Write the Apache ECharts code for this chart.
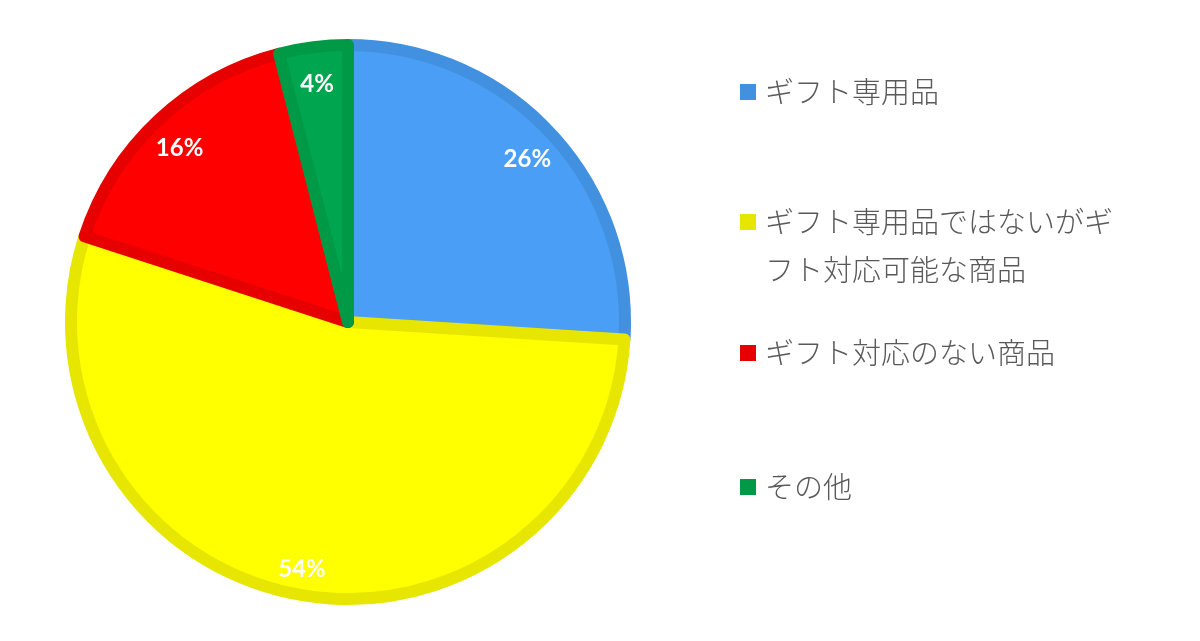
<!DOCTYPE html>
<html>
<head>
<meta charset="utf-8">
<script src="https://cdn.jsdelivr.net/npm/echarts@6/dist/echarts.min.js"></script>
<style>html,body{margin:0;padding:0;background:#fff;}#c{width:1200px;height:641px;}</style>
</head>
<body>
<div id="c"></div>
<script>
const categories = ['ギフト専用品', 'ギフト専用品ではないがギフト対応可能な商品', 'ギフト対応のない商品', 'その他'];
const values = [26, 54, 16, 4];
const fillColors = ['#4a9ef5', '#ffff00', '#ff0000', '#00a550'];
const borderColors = ['#4290e0', '#e6e600', '#e60000', '#009a46'];
const legendTops = [75, 198, 336, 470];

const chart = echarts.init(document.getElementById('c'));
const mainData = categories.map((n, i) => ({
  name: n, value: values[i],
  itemStyle: { color: fillColors[i], borderColor: borderColors[i] }
}));
const labelData = categories.map((n, i) => ({ name: n, value: values[i] }));

const legends = categories.map((n, i) => {
  const twoLine = n.length > 12;
  return {
    orient: 'vertical',
    left: 740,
    top: legendTops[i],
    padding: 0,
    itemWidth: 16,
    itemHeight: twoLine ? 64 : 16,
    itemGap: 5,
    icon: twoLine ? 'path://M0 0H16V16H0Z M0 64L0.01 64' : 'rect',
    selectedMode: false,
    data: [{ name: n, itemStyle: { color: borderColors[i], borderWidth: 0 } }],
    formatter: function (name) {
      return name.length > 12 ? name.slice(0, 12) + '\n' + name.slice(12) : name;
    },
    textStyle: {
      fontFamily: '"Noto Sans CJK JP", sans-serif',
      fontSize: 29,
      fontWeight: 300,
      color: '#595959',
      lineHeight: twoLine ? 48 : 34,
      padding: [0, 0, 0, 4]
    }
  };
});

chart.setOption({
  backgroundColor: '#ffffff',
  animation: false,
  legend: legends,
  series: [
    {
      type: 'pie',
      center: [348, 322],
      radius: [0, 277],
      startAngle: 90,
      clockwise: true,
      silent: true,
      itemStyle: { borderWidth: 12 },
      label: { show: false },
      labelLine: { show: false },
      data: mainData
    },
    {
      type: 'pie',
      center: [348, 322],
      radius: [211, 275],
      startAngle: 90,
      clockwise: true,
      silent: true,
      itemStyle: { color: 'rgba(0,0,0,0)', borderWidth: 0 },
      label: {
        show: true,
        position: 'inside',
        formatter: '{d}%',
        color: '#ffffff',
        fontFamily: 'Lato, "Open Sans", sans-serif',
        fontWeight: 'bold',
        fontSize: 24,
        offset: [0, 6]
      },
      labelLine: { show: false },
      data: labelData
    }
  ]
});
</script>
</body>
</html>
